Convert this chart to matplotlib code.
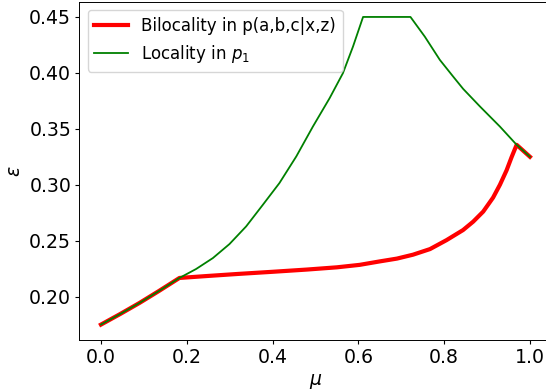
import matplotlib
matplotlib.use("Agg")
import matplotlib.pyplot as plt

# --- Data ---
# Bilocality bound in p(a,b,c|x,z)
MU_BILOC = [0.0, 0.045, 0.09, 0.135, 0.183, 0.25, 0.32, 0.40, 0.48, 0.55,
            0.603, 0.65, 0.69, 0.7275, 0.767, 0.8055, 0.844, 0.8676, 0.891,
            0.914, 0.930, 0.9456, 0.957, 0.965, 0.969, 1.0]
EPS_BILOC = [0.175, 0.1845, 0.1944, 0.205, 0.2167, 0.2185, 0.2203, 0.2222,
             0.2242, 0.2262, 0.2284, 0.2315, 0.234, 0.2375, 0.2425, 0.2505,
             0.2595, 0.267, 0.276, 0.2885, 0.300, 0.313, 0.3245, 0.332,
             0.3357, 0.325]

# Locality bound in p_1
MU_LOC = [0.0, 0.045, 0.09, 0.135, 0.183, 0.2218, 0.261, 0.2996, 0.3385,
          0.3774, 0.416, 0.4553, 0.494, 0.533, 0.564, 0.5875, 0.611, 0.7215,
          0.7549, 0.79, 0.821, 0.8443, 0.8834, 0.930, 0.969, 1.0]
EPS_LOC = [0.175, 0.1845, 0.1944, 0.205, 0.2167, 0.2247, 0.2345, 0.247,
           0.2628, 0.2821, 0.3015, 0.3253, 0.352, 0.3774, 0.3997, 0.4235,
           0.45, 0.45, 0.4324, 0.4116, 0.3967, 0.3857, 0.37, 0.352, 0.3357,
           0.325]

TICK_SIZE = 13.6
LEGEND_SIZE = 12

fig = plt.figure(figsize=(5.46, 3.92), dpi=100)
ax = fig.add_axes([0.1456, 0.1327, 0.8643, 0.8633])

ax.plot(MU_BILOC, EPS_BILOC, color='red', linewidth=3,
        label='Bilocality in p(a,b,c|x,z)')
ax.plot(MU_LOC, EPS_LOC, color='green', linewidth=1.3,
        label='Locality in $p_1$')

ax.set_xlabel(r'$\mu$', fontsize=TICK_SIZE, labelpad=3.4)
ax.set_ylabel(r'$\varepsilon$', fontsize=TICK_SIZE, labelpad=3.4)
ax.tick_params(labelsize=TICK_SIZE, length=3, pad=3)
ax.set_xticks([0.0, 0.2, 0.4, 0.6, 0.8, 1.0])
ax.set_yticks([0.20, 0.25, 0.30, 0.35, 0.40, 0.45])
for spine in ax.spines.values():
    spine.set_linewidth(0.7)

ax.legend(loc='upper left', fontsize=LEGEND_SIZE)

fig.savefig("out.png", dpi=100)
